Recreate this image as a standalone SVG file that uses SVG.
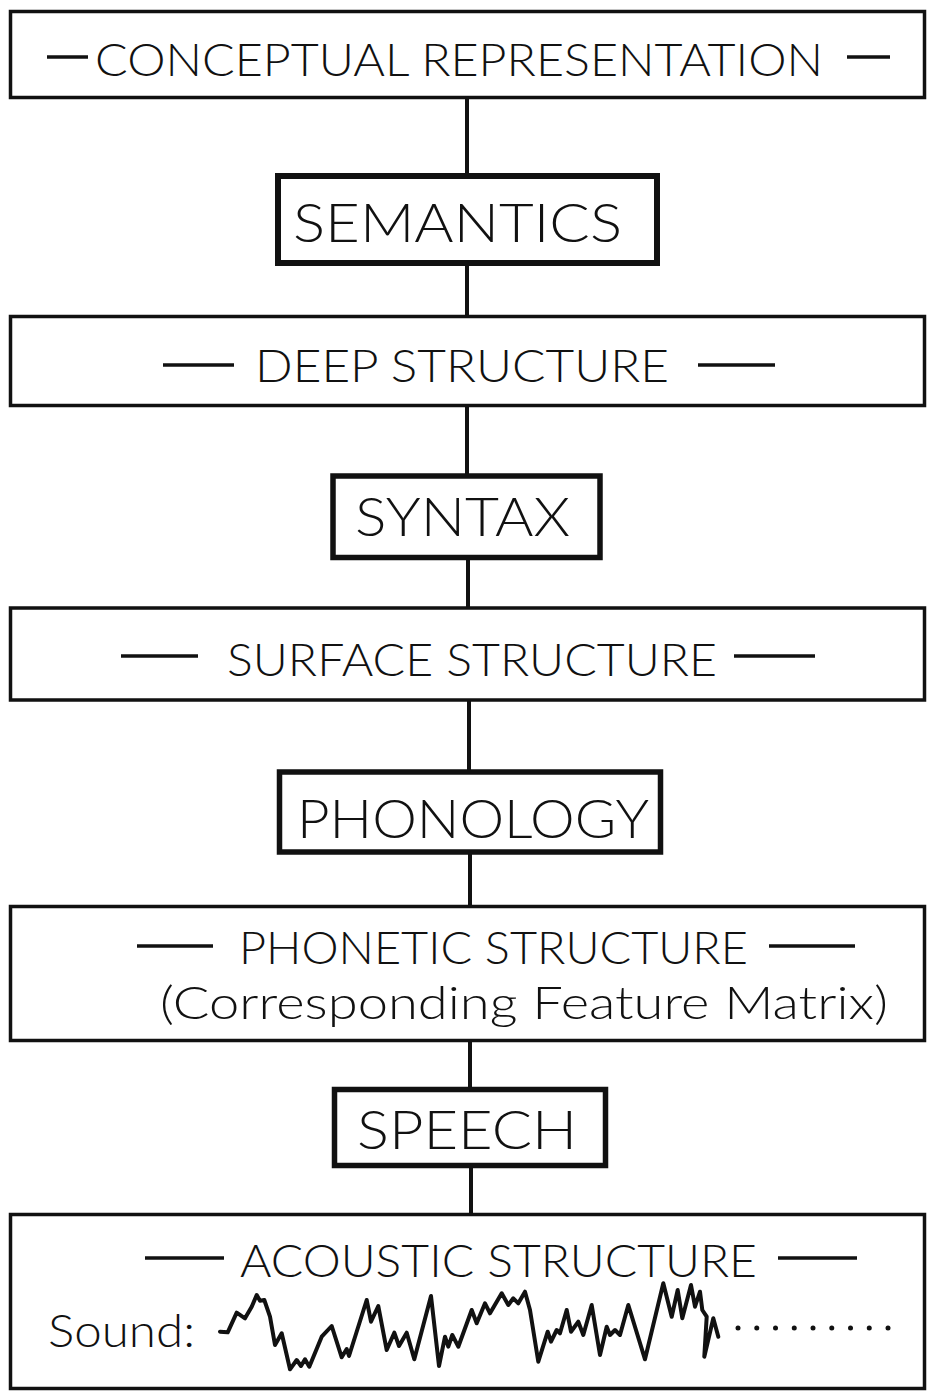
<svg xmlns="http://www.w3.org/2000/svg" width="928" height="1392" viewBox="0 0 928 1392">
<style>
.big{fill:#fff;stroke:#111;stroke-width:3.5}
.proc{fill:#fff;stroke:#111;stroke-width:5.5}
.lbl{font-family:Lato,"Liberation Sans",Arial,sans-serif;font-weight:300;font-size:45px;fill:#111}
.plbl{font-family:Lato,"Liberation Sans",Arial,sans-serif;font-weight:300;font-size:53px;fill:#111}
.dash{stroke:#111;stroke-width:3.5}
.conn{stroke:#111;stroke-width:4;fill:none}
.wave{stroke:#111;stroke-width:4;fill:none;stroke-linejoin:round;stroke-linecap:round}
</style>
<rect width="928" height="1392" fill="#fff"/>
<g id="connectors">
<line class="conn" x1="467" y1="98" x2="467" y2="174"/>
<line class="conn" x1="467" y1="266" x2="467" y2="316"/>
<line class="conn" x1="467" y1="407" x2="467" y2="474"/>
<line class="conn" x1="468" y1="559" x2="468" y2="607"/>
<line class="conn" x1="469" y1="701" x2="469" y2="770"/>
<line class="conn" x1="470" y1="854" x2="470" y2="906"/>
<line class="conn" x1="470" y1="1042" x2="470" y2="1088"/>
<line class="conn" x1="471" y1="1167" x2="471" y2="1214"/>
</g>
<g id="conceptual">
<rect class="big" x="10.5" y="11.5" width="914" height="86"/>
<line class="dash" x1="47" y1="57" x2="88" y2="57"/>
<text class="lbl" x="95" y="76" textLength="728" lengthAdjust="spacingAndGlyphs">CONCEPTUAL REPRESENTATION</text>
<line class="dash" x1="847" y1="57" x2="890" y2="57"/>
</g>
<g id="semantics">
<rect class="proc" x="278" y="176" width="379" height="87" style="stroke-width:6"/>
<text class="plbl" x="293" y="242" textLength="329" lengthAdjust="spacingAndGlyphs">SEMANTICS</text>
</g>
<g id="deep">
<rect class="big" x="10.5" y="316.5" width="914" height="89"/>
<line class="dash" x1="163" y1="365" x2="234" y2="365"/>
<text class="lbl" x="255" y="382" textLength="414" lengthAdjust="spacingAndGlyphs">DEEP STRUCTURE</text>
<line class="dash" x1="698" y1="365" x2="775" y2="365"/>
</g>
<g id="syntax">
<rect class="proc" x="333" y="476" width="267" height="81.5"/>
<text class="plbl" x="355" y="536" textLength="215" lengthAdjust="spacingAndGlyphs">SYNTAX</text>
</g>
<g id="surface">
<rect class="big" x="10.5" y="608" width="914" height="92"/>
<line class="dash" x1="121" y1="656" x2="198" y2="656"/>
<text class="lbl" x="227" y="676" textLength="490" lengthAdjust="spacingAndGlyphs">SURFACE STRUCTURE</text>
<line class="dash" x1="734" y1="656" x2="815" y2="656"/>
</g>
<g id="phonology">
<rect class="proc" x="279.5" y="772" width="381" height="80"/>
<text class="plbl" x="297" y="838" textLength="352" lengthAdjust="spacingAndGlyphs">PHONOLOGY</text>
</g>
<g id="phonetic">
<rect class="big" x="10.5" y="906.5" width="914" height="134"/>
<line class="dash" x1="137" y1="946" x2="213" y2="946"/>
<text class="lbl" x="239" y="964" textLength="509" lengthAdjust="spacingAndGlyphs">PHONETIC STRUCTURE</text>
<line class="dash" x1="769" y1="946" x2="855" y2="946"/>
<text class="lbl" x="160" y="1019" font-size="44" textLength="728" lengthAdjust="spacingAndGlyphs">(Corresponding Feature Matrix)</text>
</g>
<g id="speech">
<rect class="proc" x="334.5" y="1089.5" width="271" height="76"/>
<text class="plbl" x="357" y="1149" textLength="220" lengthAdjust="spacingAndGlyphs">SPEECH</text>
</g>
<g id="acoustic">
<rect class="big" x="10.5" y="1214.5" width="914" height="174"/>
<line class="dash" x1="145" y1="1258" x2="224" y2="1258"/>
<text class="lbl" x="240" y="1277" textLength="517" lengthAdjust="spacingAndGlyphs">ACOUSTIC STRUCTURE</text>
<line class="dash" x1="778" y1="1258" x2="857" y2="1258"/>
<text class="lbl" x="48" y="1347" font-size="44" textLength="147" lengthAdjust="spacingAndGlyphs">Sound:</text>
<polyline class="wave" points="220,1331.7 227.7,1332.3 236.7,1312.7 245,1318.3 251.7,1306.7 256.7,1295 260,1300.7 264.3,1300 270,1316.7 275,1345 281.7,1333.3 290,1369.3 296.7,1360 301,1366 305,1359.3 309.3,1366.7 321.7,1336.7 331.7,1326 341.7,1357.3 346.7,1349 349,1356 366.7,1300 371,1321.7 378.3,1306 386.7,1350 394.3,1332.7 399,1346 406.7,1332.7 414.3,1359.3 431,1296 439,1366 445,1336.7 448.3,1346.7 452.3,1335 458.3,1346.7 471.7,1310 476.7,1323.3 485,1303.3 490,1313.3 501.7,1293.3 508.3,1305 513.3,1298.3 518.3,1303.3 525,1291.7 530,1310 538.3,1361.7 547.7,1331.7 551,1341.7 556.7,1330 560,1333.3 566.7,1310 571,1331.7 578.3,1321.7 583.3,1335 591.7,1305 600,1355 606.7,1326.7 610,1335 615,1330 620,1335 628.3,1305 645,1359.3 663.3,1283.3 671.7,1316.7 677.7,1290 682.3,1318.3 691,1285 695,1306.7 700,1291.7 702.3,1310 706.7,1316.7 704.3,1356.7 713.3,1318.3 718.3,1336.7"/>
<g fill="#111">
<circle cx="738" cy="1328" r="2.5"/>
<circle cx="756.75" cy="1328" r="2.5"/>
<circle cx="775.5" cy="1328" r="2.5"/>
<circle cx="794.25" cy="1328" r="2.5"/>
<circle cx="813" cy="1328" r="2.5"/>
<circle cx="831.75" cy="1328" r="2.5"/>
<circle cx="850.5" cy="1328" r="2.5"/>
<circle cx="869.25" cy="1328" r="2.5"/>
<circle cx="888" cy="1328" r="2.5"/>
</g>
</g>
</svg>
